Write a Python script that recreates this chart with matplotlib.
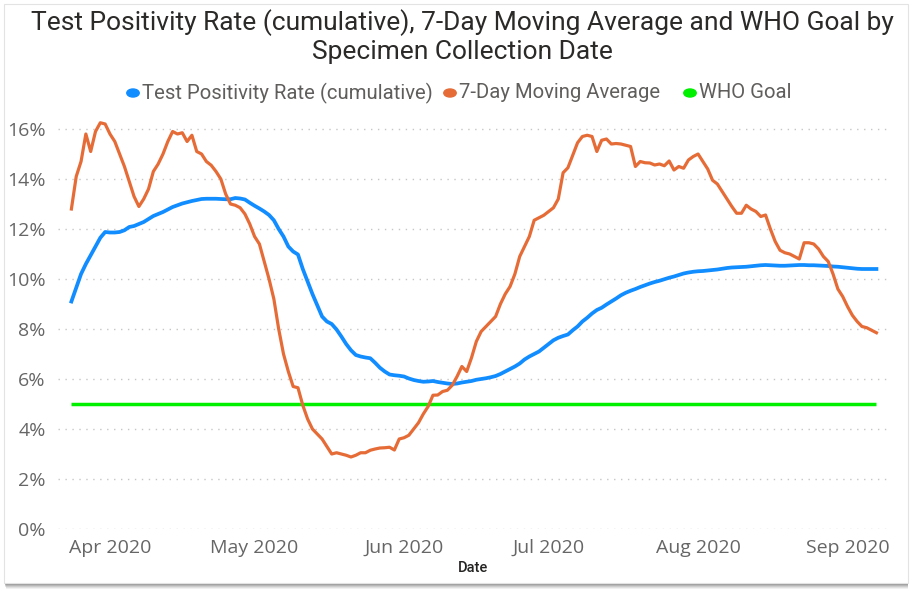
import numpy as np
import pandas as pd
import matplotlib
matplotlib.use("Agg")
import matplotlib.pyplot as plt
import matplotlib.dates as mdates
from matplotlib.patches import Rectangle
from matplotlib.ticker import FuncFormatter, MultipleLocator

# daily values, Mar 24 2020 .. Sep 7 2020
dates = pd.date_range("2020-03-24", "2020-09-07", freq="D")

# Test Positivity Rate (cumulative), %
tpr_cumulative = [
    9.1, 9.65, 10.2, 10.6, 10.95, 11.3, 11.65, 11.88, 11.86, 11.86,
    11.88, 11.95, 12.08, 12.12, 12.2, 12.28, 12.4, 12.52, 12.6, 12.68,
    12.78, 12.88, 12.95, 13.02, 13.07, 13.12, 13.16, 13.2, 13.21, 13.21,
    13.21, 13.2, 13.19, 13.19, 13.24, 13.22, 13.18, 13.05, 12.93, 12.82,
    12.7, 12.56, 12.35, 12.0, 11.7, 11.3, 11.1, 10.98, 10.4, 9.9,
    9.4, 8.95, 8.5, 8.3, 8.2, 7.98, 7.7, 7.4, 7.15, 6.96,
    6.9, 6.86, 6.83, 6.65, 6.45, 6.3, 6.18, 6.15, 6.13, 6.1,
    6.02, 5.96, 5.92, 5.89, 5.9, 5.92, 5.88, 5.85, 5.82, 5.8,
    5.82, 5.86, 5.89, 5.92, 5.97, 6.0, 6.03, 6.07, 6.12, 6.2,
    6.3, 6.4, 6.5, 6.62, 6.78, 6.9, 7.0, 7.1, 7.25, 7.4,
    7.55, 7.65, 7.72, 7.78, 7.95, 8.1, 8.3, 8.45, 8.62, 8.76,
    8.85, 8.98, 9.1, 9.22, 9.35, 9.45, 9.53, 9.6, 9.68, 9.75,
    9.82, 9.88, 9.93, 9.99, 10.05, 10.1, 10.16, 10.22, 10.26, 10.29,
    10.31, 10.32, 10.34, 10.36, 10.38, 10.41, 10.44, 10.46, 10.47, 10.48,
    10.49, 10.51, 10.53, 10.55, 10.56, 10.55, 10.54, 10.53, 10.53, 10.54,
    10.55, 10.56, 10.56, 10.55, 10.55, 10.54, 10.53, 10.52, 10.5, 10.49,
    10.47, 10.45, 10.43, 10.41, 10.4, 10.4, 10.4, 10.4,
]

# 7-Day Moving Average, %
moving_avg_7d = [
    12.8, 14.1, 14.7, 15.8, 15.1, 15.9, 16.25, 16.2, 15.8, 15.5,
    15.0, 14.5, 13.9, 13.3, 12.9, 13.2, 13.6, 14.3, 14.6, 15.0,
    15.5, 15.9, 15.8, 15.85, 15.5, 15.75, 15.1, 15.0, 14.7, 14.55,
    14.3, 14.0, 13.4, 13.0, 12.95, 12.85, 12.6, 12.2, 11.7, 11.4,
    10.7, 10.0, 9.2, 8.0, 7.0, 6.3, 5.7, 5.65, 4.95, 4.4,
    4.0, 3.8, 3.6, 3.3, 3.0, 3.05, 3.0, 2.95, 2.88, 2.95,
    3.05, 3.05, 3.15, 3.2, 3.24, 3.25, 3.27, 3.16, 3.6, 3.65,
    3.75, 4.0, 4.25, 4.6, 4.9, 5.35, 5.36, 5.5, 5.55, 5.75,
    6.1, 6.5, 6.3, 6.85, 7.5, 7.9, 8.1, 8.3, 8.5, 9.0,
    9.4, 9.7, 10.2, 10.9, 11.3, 11.7, 12.35, 12.45, 12.55, 12.7,
    12.85, 13.2, 14.25, 14.45, 14.95, 15.45, 15.7, 15.75, 15.7, 15.1,
    15.55, 15.6, 15.4, 15.42, 15.4, 15.35, 15.3, 14.5, 14.7, 14.65,
    14.64, 14.56, 14.6, 14.53, 14.72, 14.36, 14.5, 14.43, 14.76, 14.9,
    15.0, 14.7, 14.4, 13.95, 13.8, 13.5, 13.2, 12.9, 12.63, 12.63,
    12.95, 12.8, 12.7, 12.5, 12.56, 12.0, 11.5, 11.15, 11.05, 11.0,
    10.9, 10.8, 11.45, 11.45, 11.4, 11.2, 10.9, 10.7, 10.2, 9.6,
    9.3, 8.9, 8.55, 8.3, 8.1, 8.05, 7.95, 7.85,
]

who_goal = 5.0

series_names = ["Test Positivity Rate (cumulative)", "7-Day Moving Average", "WHO Goal"]
colors = ["#118DFF", "#E66C37", "#00F000"]

fig = plt.figure(figsize=(9.13, 5.91), dpi=100)
fig.patch.set_facecolor("white")

# card with soft shadow (Power BI visual frame)
W, H = 913, 591
for i, a in enumerate([0.08, 0.10, 0.13, 0.17, 0.22, 0.28]):
    off = 6 - i
    fig.patches.append(Rectangle(((4 + off * 0.3) / W, (H - 583 - off) / H),
                                 (904 - off * 0.3) / W, 579 / H,
                                 transform=fig.transFigure, facecolor="#505050",
                                 alpha=a, edgecolor="none", zorder=0))
fig.patches.append(Rectangle((4 / W, (H - 583) / H), 904 / W, 579 / H,
                             transform=fig.transFigure, facecolor="white",
                             edgecolor="#E3E3E3", lw=0.8, zorder=1))

ax = fig.add_axes([58 / W, (H - 529) / H, 830 / W, (529 - 114) / H])
ax.set_zorder(2)
ax.patch.set_alpha(0)

ax.plot(dates, [who_goal] * len(dates), color=colors[2], lw=2.5, solid_capstyle="butt")
ax.plot(dates, tpr_cumulative, color=colors[0], lw=2.7)
ax.plot(dates, moving_avg_7d, color=colors[1], lw=2.3)

x0 = dates[0] - pd.Timedelta(days=2.78)
x1 = dates[0] + pd.Timedelta(days=169.4)
ax.set_xlim(x0, x1)
ax.set_ylim(0, 16.6)

ax.yaxis.set_major_locator(MultipleLocator(2))
ax.yaxis.set_major_formatter(FuncFormatter(lambda v, p: f"{v:.0f}%"))
ax.xaxis.set_major_locator(mdates.MonthLocator())
ax.xaxis.set_major_formatter(mdates.DateFormatter("%b %Y"))

for s in ax.spines.values():
    s.set_visible(False)
ax.tick_params(length=0, colors="#666666", labelsize=14)
ax.tick_params(axis="y", pad=9)
ax.tick_params(axis="x", pad=7)
for lab in ax.get_xticklabels() + ax.get_yticklabels():
    lab.set_fontfamily("Open Sans")
ax.grid(axis="y", color="#C8C6C4", ls=(0, (1, 4)), lw=1.0)
ax.set_axisbelow(True)

ax.set_xlabel("Date", fontsize=10.5, color="#252423", fontfamily="Roboto",
              fontweight="medium", labelpad=3)

title_kw = dict(ha="center", va="center", fontsize=19.0, color="#2B2A29", fontfamily="Roboto")
fig.text(0.507, 1 - 23 / H, "Test Positivity Rate (cumulative), 7-Day Moving Average and WHO Goal by",
         **title_kw)
fig.text(0.507, 1 - 52 / H, "Specimen Collection Date", **title_kw)

# legend
leg_y = 1 - 93 / H
dot_x = [133, 450, 690]
for name, c, dx in zip(series_names, colors, dot_x):
    fig.patches.append(plt.Circle((dx / W, leg_y), 0.0068, transform=fig.transFigure,
                                  color=c, zorder=3))
    fig.text((dx + 9) / W, leg_y, name, ha="left", va="center", fontsize=14.6,
             color="#605E5C", fontfamily="Roboto", zorder=3)

fig.savefig("out.png", dpi=100, facecolor="white")
